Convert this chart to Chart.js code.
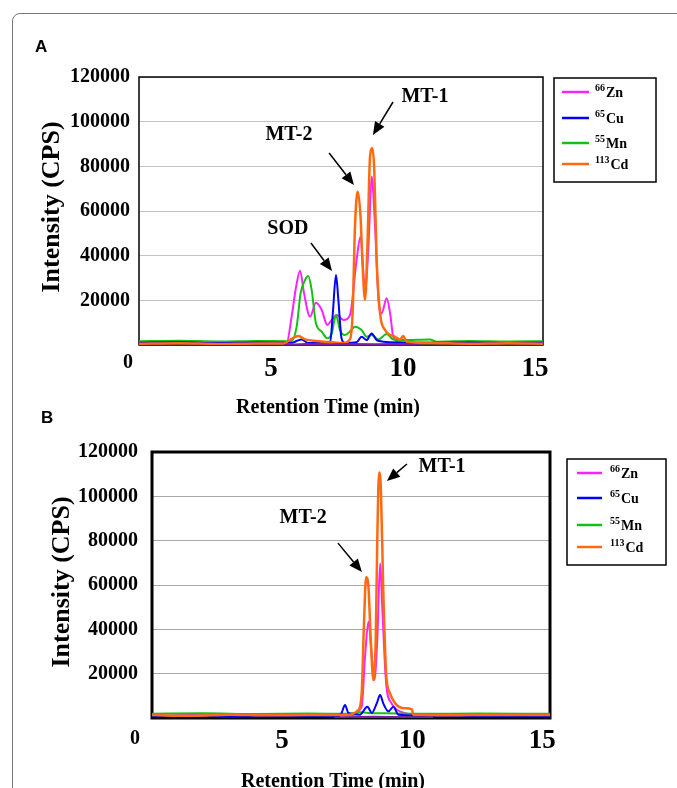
<!DOCTYPE html>
<html>
<head>
<meta charset="utf-8">
<script src="https://cdn.jsdelivr.net/npm/chart.js@4.4.1/dist/chart.umd.min.js"></script>
<style>
body { margin: 0; background: #fff; width: 677px; height: 788px; overflow: hidden; position: relative; }
#frame { position: absolute; left: 12px; top: 13px; width: 720px; height: 820px; border: 1.5px solid #777; border-radius: 8px; }
canvas { position: absolute; left: 0; }
#chartA { top: 0; }
#chartB { top: 400px; }
.plabel { position: absolute; font: bold 17px "Liberation Sans", Arial, sans-serif; line-height: 17px; color: #000; }
</style>
</head>
<body>
<div id="frame"></div>
<canvas id="chartA" width="677" height="420"></canvas>
<canvas id="chartB" width="677" height="388"></canvas>
<div class="plabel" style="left:35px;top:38px;">A</div>
<div class="plabel" style="left:41px;top:409px;">B</div>
<script>
// ICP-MS chromatograms, panel A and panel B
var SERIF = '"Liberation Serif", "Times New Roman", serif';

var seriesMass = ['66', '65', '55', '113'];
var seriesNames = ['Zn', 'Cu', 'Mn', 'Cd'];
var seriesColors = ['#ff22ff', '#0000ff', '#14c014', '#ff6a10'];
var drawOrder = [4, 2, 3, 1];
var xTicks = [0, 5, 10, 15];
var yTicks = [0, 20000, 40000, 60000, 80000, 100000, 120000];

// panel A, retention time (min) and intensity (CPS)
var znA_t = [0, 1.2, 2.5, 3.8, 5.0, 5.59, 5.78, 5.95, 6.10, 6.25, 6.48, 6.70, 6.92, 7.13, 7.30, 7.49, 7.74, 7.99, 8.24, 8.39, 8.56, 8.69, 8.81, 8.94, 9.07, 9.19, 9.38, 9.51, 9.63, 9.88, 11.0, 12.5, 14.0, 15.3];
var znA_v = [1000, 1300, 900, 1200, 1000, 800, 12700, 26100, 33300, 23100, 12700, 18900, 15700, 9000, 11200, 13400, 11200, 13400, 38100, 48500, 24600, 44000, 75400, 53000, 20200, 14200, 20900, 14200, 3700, 1200, 1000, 1300, 900, 1000];
var cuA_t = [0, 1.5, 3.0, 4.5, 5.8, 5.97, 6.16, 6.41, 7.24, 7.34, 7.46, 7.55, 7.67, 7.80, 8.24, 8.43, 8.62, 8.81, 9.00, 9.26, 10.5, 12.5, 14.0, 15.3];
var cuA_v = [1000, 1200, 900, 1100, 1000, 1800, 2500, 900, 1200, 14200, 31300, 20200, 3000, 900, 1200, 3700, 2200, 5200, 2200, 1500, 1000, 1100, 900, 1000];
var mnA_t = [0, 1.5, 3.0, 4.5, 5.6, 5.78, 5.97, 6.12, 6.29, 6.41, 6.54, 6.70, 6.92, 7.13, 7.30, 7.46, 7.61, 7.80, 7.99, 8.18, 8.43, 8.62, 8.81, 9.07, 9.38, 9.63, 10.01, 11.02, 11.28, 12.5, 14.0, 15.3];
var mnA_v = [1700, 1900, 1600, 1800, 1700, 1800, 8200, 23100, 29100, 30900, 24600, 9700, 6000, 3000, 5200, 13400, 6700, 4500, 6000, 8200, 6700, 3700, 4500, 2500, 4900, 2500, 2200, 2500, 1500, 1800, 1600, 1700];
var cdA_t = [0, 1.5, 3.0, 4.5, 5.5, 5.66, 6.04, 6.29, 6.73, 7.24, 7.74, 7.99, 8.09, 8.18, 8.28, 8.39, 8.47, 8.56, 8.65, 8.75, 8.84, 8.91, 9.00, 9.13, 9.32, 9.70, 9.88, 10.01, 10.14, 11.02, 12.5, 14.0, 15.3];
var cdA_v = [600, 800, 500, 700, 700, 1800, 4000, 2500, 1800, 1300, 900, 2500, 14200, 53000, 68700, 57500, 35100, 20200, 44000, 84300, 88100, 78400, 38100, 14200, 6700, 3700, 2500, 4000, 1500, 900, 600, 800, 600];
var bgA_t = [5.5, 6.3, 7.2, 8.0, 8.9, 9.8, 10.6];
var bgA_v = [0, 400, 300, 500, 350, 400, 0];

// panel B
var znB_t = [0, 1.5, 3.0, 4.5, 6.0, 7.5, 8.06, 8.19, 8.32, 8.45, 8.55, 8.66, 8.77, 8.85, 9.00, 9.21, 9.53, 10.5, 12.0, 13.5, 15.3];
var znB_v = [1000, 1300, 800, 1200, 900, 1100, 5100, 27700, 43400, 27700, 17100, 35200, 69800, 50200, 15700, 6600, 3000, 1100, 900, 1200, 1000];
var cuB_t = [0, 2.0, 4.0, 6.0, 7.2, 7.29, 7.42, 7.55, 7.99, 8.28, 8.45, 8.64, 8.77, 8.89, 9.09, 9.28, 9.47, 11.0, 13.0, 15.3];
var cuB_v = [800, 1000, 700, 900, 800, 2300, 5900, 2300, 1500, 5100, 2300, 6600, 10400, 6600, 3000, 5100, 1500, 900, 800, 900];
var mnB_t = [0, 2.0, 4.0, 6.0, 7.5, 8.0, 8.3, 9.0, 10.5, 12.5, 15.3];
var mnB_v = [1900, 2100, 1800, 2000, 1900, 2600, 2300, 2100, 1900, 2000, 1900];
var cdB_t = [0, 1.5, 3.0, 4.5, 6.0, 7.5, 7.93, 8.06, 8.15, 8.23, 8.32, 8.41, 8.51, 8.60, 8.66, 8.73, 8.80, 8.89, 9.00, 9.15, 9.35, 9.67, 9.99, 10.05, 11.5, 13.0, 15.3];
var cdB_v = [1300, 1000, 1500, 1200, 1300, 1400, 3600, 11100, 42700, 63500, 59200, 35200, 17100, 35200, 80300, 110800, 102900, 57700, 20200, 11100, 6600, 4400, 3900, 1500, 1200, 1400, 1300];
var bgB_t = [7.0, 7.8, 8.5, 9.2, 10.0, 10.8];
var bgB_v = [0, 500, 600, 450, 350, 0];

// peak labels: text, text x/y, arrow start x/y, arrow tip x/y (data units)
var notesA = [
    ['MT-1', 10.83, 111000, 9.62, 108800, 8.86, 94000],
    ['MT-2', 5.68, 94000, 7.20, 86000, 8.14, 71600],
    ['SOD', 5.64, 51900, 6.51, 45700, 7.31, 33100]
];
var notesB = [
    ['MT-1', 11.15, 113200, 9.80, 114600, 9.03, 106900],
    ['MT-2', 5.81, 90200, 7.15, 78900, 8.07, 65900]
];

function pairs(t, v) {
    return t.map(function(x, i) { return { x: x, y: v[i] }; });
}

function buildDatasets(list, bg) {
    var ds = list.map(function(s, i) {
        return {
            label: seriesMass[i] + seriesNames[i],
            data: pairs(s[0], s[1]),
            borderColor: seriesColors[i],
            borderWidth: i === 3 ? 2.5 : 2,
            pointRadius: 0,
            fill: false,
            cubicInterpolationMode: 'monotone',
            order: drawOrder[i]
        };
    });
    ds.push({ label: 'bg', data: pairs(bg[0], bg[1]), borderColor: '#7b1fa2', borderWidth: 2, pointRadius: 0, fill: false, order: 0 });
    return ds;
}

function drawArrow(ctx, x1, y1, x2, y2) {
    var a = Math.atan2(y2 - y1, x2 - x1), len = 13, hw = 5.5;
    var bx = x2 - len * Math.cos(a), by = y2 - len * Math.sin(a);
    ctx.beginPath();
    ctx.moveTo(x1, y1);
    ctx.lineTo(bx, by);
    ctx.lineWidth = 1.5;
    ctx.strokeStyle = '#000';
    ctx.stroke();
    ctx.beginPath();
    ctx.moveTo(x2, y2);
    ctx.lineTo(bx + hw * Math.sin(a), by - hw * Math.cos(a));
    ctx.lineTo(bx - hw * Math.sin(a), by + hw * Math.cos(a));
    ctx.closePath();
    ctx.fillStyle = '#000';
    ctx.fill();
}

function makePanel(L, datasets, notes) {
    var boxPlugin = {
        id: 'box' + L.canvas,
        beforeDatasetsDraw: function(chart) {
            var c = chart.ctx, a = chart.chartArea;
            c.save();
            c.lineWidth = L.border;
            c.strokeStyle = '#000';
            c.strokeRect(a.left, a.top, a.right - a.left, a.bottom - a.top);
            c.restore();
        },
        afterDraw: function(chart) {
            var c = chart.ctx, a = chart.chartArea;
            var xs = chart.scales.x, ys = chart.scales.y;
            c.save();
            c.fillStyle = '#000';
            // axis titles
            c.textAlign = 'center';
            c.textBaseline = 'middle';
            c.font = 'bold 20px ' + SERIF;
            c.fillText('Retention Time (min)', L.xTitleX, L.xTitleY);
            c.fillText('0', L.zeroX, L.zeroY);
            c.save();
            c.translate(L.yTitleX, L.yTitleY);
            c.rotate(-Math.PI / 2);
            c.font = 'bold 26px ' + SERIF;
            c.fillText('Intensity (CPS)', 0, 0);
            c.restore();
            // peak labels
            c.font = 'bold 20px ' + SERIF;
            notes.forEach(function(n) {
                c.fillText(n[0], xs.getPixelForValue(n[1]), ys.getPixelForValue(n[2]));
                drawArrow(c, xs.getPixelForValue(n[3]), ys.getPixelForValue(n[4]),
                    xs.getPixelForValue(n[5]), ys.getPixelForValue(n[6]));
            });
            // legend
            var g = L.legend;
            c.lineWidth = 1.5;
            c.strokeStyle = '#000';
            c.strokeRect(g.x, g.y, g.w, g.h);
            c.textAlign = 'left';
            seriesNames.forEach(function(name, i) {
                var r = g.rows[i];
                c.beginPath();
                c.moveTo(g.lineX, r);
                c.lineTo(g.lineX + g.lineW, r);
                c.lineWidth = 2.5;
                c.strokeStyle = seriesColors[i];
                c.stroke();
                c.font = 'bold 10px ' + SERIF;
                c.fillText(seriesMass[i], g.textX, r - 4);
                var w = c.measureText(seriesMass[i]).width;
                c.font = 'bold 14px ' + SERIF;
                c.fillText(name, g.textX + w + 1, r + 1);
            });
            c.restore();
        }
    };

    return new Chart(document.getElementById(L.canvas), {
        type: 'line',
        data: { datasets: datasets },
        options: {
            responsive: false,
            animation: false,
            devicePixelRatio: 1,
            layout: { padding: { left: 0, right: 677 - L.right, top: L.top, bottom: L.height - L.bottom - 60 } },
            plugins: { legend: { display: false }, tooltip: { enabled: false } },
            scales: {
                x: {
                    type: 'linear', min: 0, max: 15.3,
                    afterBuildTicks: function(s) { s.ticks = xTicks.map(function(v) { return { value: v }; }); },
                    afterFit: function(s) { s.height = 60; },
                    grid: { display: false, drawTicks: false },
                    border: { display: false },
                    ticks: {
                        padding: L.xPad, color: '#000', maxRotation: 0, autoSkip: false,
                        font: { family: SERIF, size: 27, weight: 'bold' },
                        callback: function(v) { return v === 0 ? '' : String(v); }
                    }
                },
                y: {
                    min: 0, max: 120000,
                    afterBuildTicks: function(s) { s.ticks = yTicks.map(function(v) { return { value: v }; }); },
                    afterFit: function(s) { s.width = L.left; },
                    grid: { color: L.grid, lineWidth: 1, drawTicks: false },
                    border: { display: false },
                    ticks: {
                        padding: L.tickPad, color: '#000',
                        font: { family: SERIF, size: 20, weight: 'bold' },
                        callback: function(v) { return v === 0 ? '' : String(v); }
                    }
                }
            }
        },
        plugins: [boxPlugin]
    });
}

makePanel({
    canvas: 'chartA', left: 139, right: 543, top: 77, bottom: 345, height: 420,
    border: 1.5, grid: '#c4c4c4', tickPad: 9, xPad: 8,
    yTitleX: 52, yTitleY: 207, xTitleX: 328, xTitleY: 408, zeroX: 128, zeroY: 363,
    legend: { x: 554, y: 78, w: 102, h: 104, lineX: 562, lineW: 27, textX: 595, rows: [92, 118, 143, 164] }
}, buildDatasets([[znA_t, znA_v], [cuA_t, cuA_v], [mnA_t, mnA_v], [cdA_t, cdA_v]], [bgA_t, bgA_v]), notesA);

makePanel({
    canvas: 'chartB', left: 152, right: 550, top: 52, bottom: 318, height: 388,
    border: 3, grid: '#a8a8a8', tickPad: 14, xPad: 7,
    yTitleX: 62, yTitleY: 182, xTitleX: 333, xTitleY: 382, zeroX: 135, zeroY: 339,
    legend: { x: 567, y: 59, w: 99, h: 106, lineX: 577, lineW: 25, textX: 610, rows: [73, 98, 125, 147] }
}, buildDatasets([[znB_t, znB_v], [cuB_t, cuB_v], [mnB_t, mnB_v], [cdB_t, cdB_v]], [bgB_t, bgB_v]), notesB);
</script>
</body>
</html>
